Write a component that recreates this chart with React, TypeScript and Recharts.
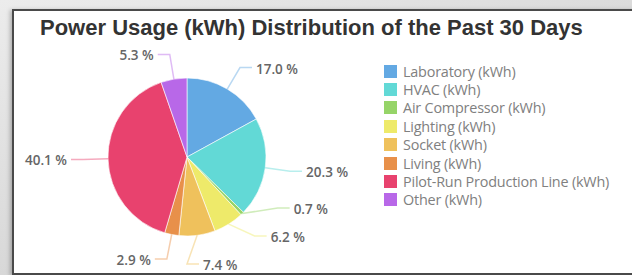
import React from 'react';
import { PieChart, Pie, Cell, Legend } from 'recharts';

const categories = [
  'Laboratory (kWh)',
  'HVAC (kWh)',
  'Air Compressor (kWh)',
  'Lighting (kWh)',
  'Socket (kWh)',
  'Living (kWh)',
  'Pilot-Run Production Line (kWh)',
  'Other (kWh)',
];
const shares = [17.0, 20.3, 0.7, 6.2, 7.4, 2.9, 40.1, 5.3];
const colors = ['#63a9e3', '#62d9d6', '#96d468', '#eeea6a', '#efc15c', '#e8904a', '#e8426e', '#b868e8'];
const titleText = 'Power Usage (kWh) Distribution of the Past 30 Days';

const data = categories.map((name, i) => ({ name, value: shares[i] }));

const CX = 187;
const CY = 157;
const OUTER = 79;
const START = 90;
const END = -270;
const LEN1 = 25;
const LEN2 = 12;
const GAP = 28;
const BOTTOM = 264;
const RAD = Math.PI / 180;

// label layout: push overlapping labels down, then keep them above the bottom edge
function buildLayout() {
  const total = shares.reduce((a, b) => a + b, 0);
  let acc = 0;
  const R = OUTER + LEN1;
  const items = shares.map((v, i) => {
    const a0 = START + (END - START) * (acc / total);
    acc += v;
    const a1 = START + (END - START) * (acc / total);
    const mid = (a0 + a1) / 2;
    const dx = Math.cos(-mid * RAD);
    const dy = Math.sin(-mid * RAD);
    return { i, dir: dx >= 0 ? 1 : -1, y: CY + R * dy };
  });
  [1, -1].forEach((d) => {
    const side = items.filter((it) => it.dir === d).sort((a, b) => a.y - b.y);
    for (let j = 1; j < side.length; j++) {
      if (side[j].y - side[j - 1].y < GAP) side[j].y = side[j - 1].y + GAP;
    }
    for (let j = side.length - 1; j >= 0; j--) {
      const lim = j === side.length - 1 ? BOTTOM : side[j + 1].y - GAP;
      if (side[j].y > lim) side[j].y = lim;
    }
  });
  const out: { dir: number; y: number }[] = [];
  items.forEach((it) => (out[it.i] = { dir: it.dir, y: it.y }));
  return out;
}
const layout = buildLayout();

const renderLabel = (props: any) => {
  const { cx, cy, midAngle, outerRadius, index, value } = props;
  const L = layout[index];
  const R = outerRadius + LEN1;
  const x0 = cx + outerRadius * Math.cos(-midAngle * RAD);
  const y0 = cy + outerRadius * Math.sin(-midAngle * RAD);
  const dyy = L.y - cy;
  const dxx = Math.abs(dyy) < R ? Math.sqrt(R * R - dyy * dyy) : 0;
  const x1 = cx + L.dir * dxx;
  const x2 = x1 + L.dir * LEN2;
  return (
    <g key={`lbl-${index}`}>
      <polyline
        points={`${x0},${y0} ${x1},${L.y} ${x2},${L.y}`}
        fill="none"
        stroke={colors[index]}
        strokeOpacity={0.45}
        strokeWidth={1.5}
      />
      <text
        x={x2 + L.dir * 4}
        y={L.y + 1}
        textAnchor={L.dir > 0 ? 'start' : 'end'}
        dominantBaseline="central"
        fontFamily="'Open Sans', sans-serif"
        fontSize={13.5}
        fontWeight={600}
        fill="#666"
      >
        {`${Number(value).toFixed(1)} %`}
      </text>
    </g>
  );
};

const renderLegend = () => (
  <div>
    {categories.map((name, i) => (
      <div key={name} style={{ display: 'flex', alignItems: 'center', height: 18.4 }}>
        <span style={{ width: 13, height: 13, background: colors[i], display: 'inline-block', marginRight: 6, flex: 'none' }} />
        <span style={{ fontFamily: "'Open Sans', sans-serif", fontSize: 14.4, color: '#808080', whiteSpace: 'nowrap', letterSpacing: -0.2 }}>
          {name}
        </span>
      </div>
    ))}
  </div>
);

export default function App() {
  return (
    <div
      style={{
        position: 'absolute',
        left: 0,
        top: 0,
        width: 632,
        height: 275,
        overflow: 'hidden',
        background: 'linear-gradient(160deg, #ececec 0%, #d6d6d6 60%, #cfcfcf 100%)',
      }}
    >
      <div
        style={{
          position: 'absolute',
          left: 12,
          top: 9,
          width: 640,
          height: 266,
          boxSizing: 'border-box',
          background: '#fff',
          border: '2px solid #4a4a4a',
          borderRight: 'none',
          boxShadow: '-2px 1px 4px rgba(0,0,0,0.25)',
        }}
      />
      <div
        style={{
          position: 'absolute',
          left: 40,
          top: 15,
          fontFamily: "'Liberation Sans', Arial, sans-serif",
          fontWeight: 'bold',
          fontSize: 22,
          lineHeight: '26px',
          color: '#333',
          whiteSpace: 'nowrap',
        }}
      >
        {titleText}
      </div>
      <div style={{ position: 'absolute', left: 0, top: 0 }}>
        <PieChart width={632} height={275} margin={{ top: 0, right: 0, bottom: 0, left: 0 }}>
          <Pie
            data={data}
            dataKey="value"
            nameKey="name"
            cx={CX}
            cy={CY}
            outerRadius={OUTER}
            startAngle={START}
            endAngle={END}
            isAnimationActive={false}
            label={renderLabel}
            labelLine={false}
            stroke="#fff"
            strokeWidth={0.6}
          >
            {data.map((d, i) => (
              <Cell key={d.name} fill={colors[i]} />
            ))}
          </Pie>
          <Legend
            content={renderLegend}
            layout="vertical"
            wrapperStyle={{ position: 'absolute', left: 384, top: 62, width: 245 }}
          />
        </PieChart>
      </div>
    </div>
  );
}
